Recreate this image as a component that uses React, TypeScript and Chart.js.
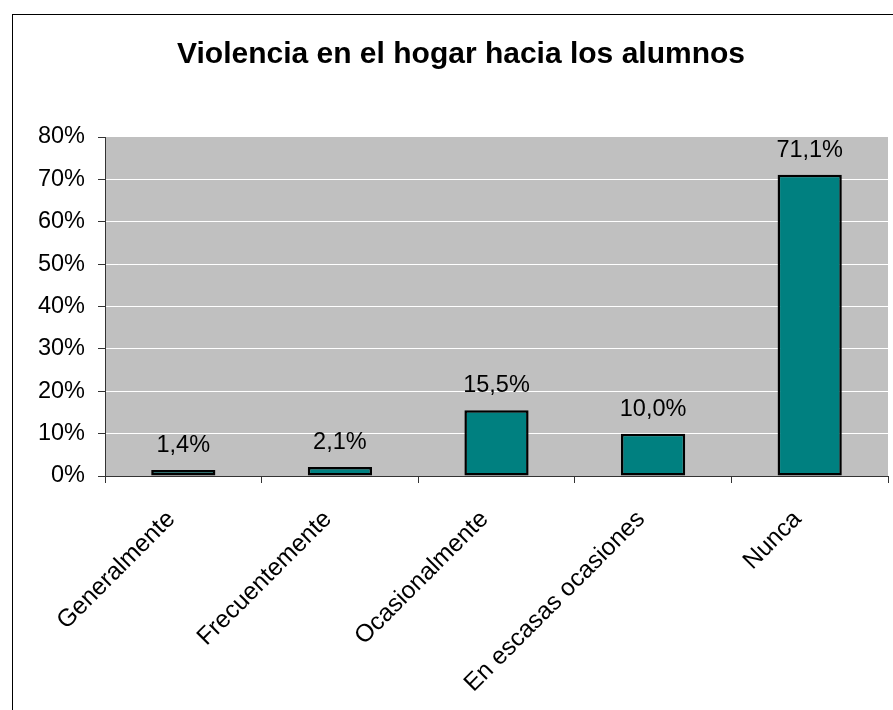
import React, { useEffect, useRef } from "react";
import { Chart, registerables } from "chart.js";

Chart.register(...registerables);

const title = "Violencia en el hogar hacia los alumnos";
const categories = ["Generalmente", "Frecuentemente", "Ocasionalmente", "En escasas ocasiones", "Nunca"];
const values = [1.4, 2.1, 15.5, 10.0, 71.1];
const yMax = 80;
const yStep = 10;

const FONT = "'Liberation Sans', Arial, Helvetica, sans-serif";

const fmt = (v: number) => v.toFixed(1).replace(".", ",") + "%";

export default function App() {
  const ref = useRef<HTMLCanvasElement | null>(null);

  useEffect(() => {
    if (!ref.current) return;
    const decor = {
      id: "decor",
      beforeDraw(chart: any) {
        const { ctx, chartArea } = chart;
        ctx.save();
        ctx.fillStyle = "#ffffff";
        ctx.fillRect(0, 0, chart.width, chart.height);
        ctx.fillStyle = "#C0C0C0";
        ctx.fillRect(chartArea.left, chartArea.top, chartArea.right - chartArea.left, chartArea.bottom - chartArea.top);
        ctx.strokeStyle = "#000000";
        ctx.lineWidth = 1;
        ctx.strokeRect(12.5, 14.5, 2000, 2000);
        ctx.fillStyle = "#000000";
        ctx.font = `bold 30px ${FONT}`;
        ctx.textAlign = "center";
        ctx.textBaseline = "alphabetic";
        ctx.fillText(title, 461, 63);
        ctx.restore();
      },
      afterDatasetsDraw(chart: any) {
        const { ctx } = chart;
        const meta = chart.getDatasetMeta(0);
        ctx.save();
        ctx.fillStyle = "#000000";
        ctx.font = `23.5px ${FONT}`;
        ctx.textAlign = "center";
        ctx.textBaseline = "alphabetic";
        meta.data.forEach((bar: any, i: number) => {
          ctx.fillText(fmt(values[i]), bar.x, bar.y - 18);
        });
        ctx.restore();
      },
    };

    const chart = new Chart(ref.current, {
      type: "bar",
      data: {
        labels: categories,
        datasets: [
          {
            data: values,
            backgroundColor: "#008080",
            borderColor: "#000000",
            borderWidth: 2.5,
            borderSkipped: false,
            barPercentage: 0.41,
            categoryPercentage: 1,
          },
        ],
      },
      options: {
        responsive: false,
        animation: false,
        layout: { padding: { left: 0, right: 5, top: 137, bottom: 0 } },
        plugins: {
          legend: { display: false },
          title: { display: false },
          tooltip: { enabled: false },
        },
        scales: {
          x: {
            afterFit: (s: any) => {
              s.height = 710 - 476;
            },
            grid: {
              drawOnChartArea: false,
              drawTicks: true,
              tickLength: 7,
              tickColor: "#333333",
              offset: true,
            },
            border: { display: true, color: "#333333", width: 1 },
            ticks: {
              autoSkip: false,
              minRotation: 45,
              maxRotation: 45,
              padding: 22,
              labelOffset: -12,
              color: "#000000",
              font: { family: FONT, size: 24.5 },
            },
          },
          y: {
            min: 0,
            max: yMax,
            afterFit: (s: any) => {
              s.width = 105;
            },
            grid: {
              color: (c: any) => (c.tick && c.tick.value === yMax ? "rgba(0,0,0,0)" : "#ffffff"),
              lineWidth: 1,
              drawTicks: true,
              tickLength: 7,
              tickColor: "#333333",
            },
            border: { display: true, color: "#333333", width: 1 },
            ticks: {
              stepSize: yStep,
              padding: 13,
              color: "#000000",
              font: { family: FONT, size: 23.5 },
              callback: (v: any) => `${v}%`,
            },
          },
        },
      },
      plugins: [decor],
    });
    return () => chart.destroy();
  }, []);

  return (
    <div style={{ position: "absolute", left: 0, top: 0, width: 893, height: 710 }}>
      <canvas ref={ref} width={893} height={710} style={{ display: "block", width: 893, height: 710 }} />
    </div>
  );
}
